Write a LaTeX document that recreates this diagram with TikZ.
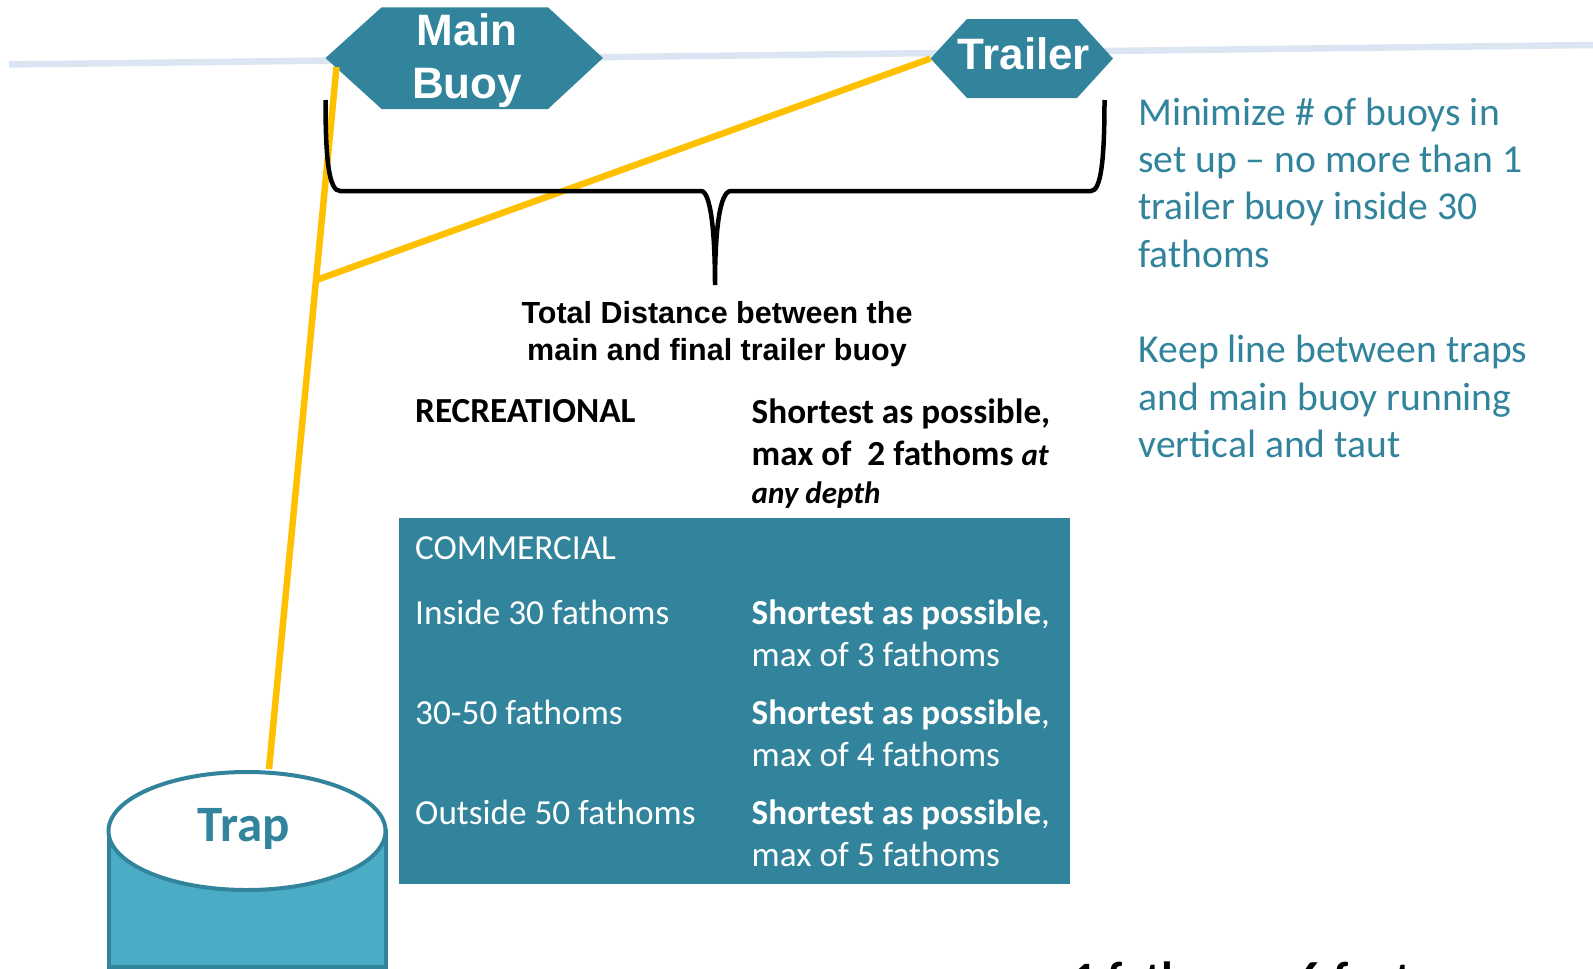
\documentclass[tikz,border=0pt]{standalone}
\usepackage{xcolor}
\usepackage{fontspec}
\usepackage{tikz}
\usetikzlibrary{calc}
\usetikzlibrary{shapes.geometric}
\setmainfont{Carlito}
\newfontfamily\arialfont{Liberation Sans}
\definecolor{teal}{HTML}{31849B}
\definecolor{trapfill}{HTML}{4BACC6}
\definecolor{rope}{HTML}{FFC000}
\definecolor{surface}{HTML}{DCE6F2}
\tikzset{
  buoy/.style = {text = white, inner sep = 0pt, align = center, font = \arialfont\bfseries\fontsize{44}{53}\selectfont},
  cell/.style = {anchor = base west, inner sep = 0pt, align = left, font = \fontsize{35.2}{42}\selectfont},
  boldcell/.style = {cell, font = \bfseries\fontsize{35.2}{42}\selectfont},
  note/.style = {anchor = base west, inner sep = 0pt, align = left, text = teal, font = \fontsize{39.6}{47.3}\selectfont},
}
\begin{document}
\begin{tikzpicture}[x = 1pt, y = -1pt]
\clip (0, 0) rectangle (1593, 969);
\coordinate (LineStart) at (9, 64.5);
\coordinate (LineEnd) at (1593, 45);
\draw [draw = surface, line width = 6.5pt] (LineStart) to (LineEnd);
\fill [teal] (325.5, 58) -- (381.6, 7.3) -- (548, 7.3) -- (603, 58) -- (548, 109) -- (381.6, 109) -- cycle;
\fill [teal] (930.5, 58.5) -- (967, 19) -- (1077, 19) -- (1113, 58.5) -- (1077, 98) -- (967, 98) -- cycle;
\node [buoy] (Main) at (467, 61) {Main\\Buoy};
\node [buoy] (Trailer) at (1024, 53.5) {Trailer};
\coordinate (TrapLeft) at (108.5, 831);
\coordinate (TrapRight) at (385.5, 831);
\draw [draw = teal, fill = trapfill, line width = 4pt] (TrapLeft) -- (108.5, 967) -- (385.5, 967) -- (TrapRight) -- cycle;
\node [ellipse, draw = teal, fill = white, line width = 4pt, minimum width = 277pt, minimum height = 118pt, inner sep = 0pt] (Trap) at (247, 831) {};
\node [inner sep = 0pt, text = teal, font = \bfseries\fontsize{51}{54}\selectfont] (TrapLabel) at (243.5, 829) {Trap};
\coordinate (TrapTie) at (269, 769);
\coordinate (MainTie) at (336.5, 67);
\coordinate (Junction) at (316.4, 280);
\coordinate (TrailerTie) at (930.5, 58.5);
\draw [draw = rope, line width = 6.5pt] (TrapTie) to (MainTie);
\draw [draw = rope, line width = 6.5pt] (Junction) to (TrailerTie);
\coordinate (BraceLeft) at (325.5, 100);
\coordinate (BraceRight) at (1104.5, 100);
\coordinate (BraceTip) at (715, 285);
\draw [draw = black, line width = 4.5pt] (BraceLeft) .. controls (325.5, 160) and (329, 191) .. (340, 191) to (701, 191) .. controls (711, 191) and (715, 235) .. (BraceTip) .. controls (715, 235) and (719, 191) .. (731, 191) to (1091, 191) .. controls (1101, 191) and (1104.5, 160) .. (BraceRight);
\node [inner sep = 0pt, align = center, font = \arialfont\bfseries\fontsize{30.5}{37}\selectfont] (Total) at (717, 334) {Total Distance between the\\main and final trailer buoy};
\node [boldcell] (Rec) at (415, 422.5) {RECREATIONAL};
\node [boldcell] (RecMax) at (751.5, 503) {Shortest as possible,\\max of\ \ 2 fathoms \textit{\fontsize{31}{38}\selectfont at}\\[-4pt]\textit{\fontsize{31}{38}\selectfont any depth}};
\node [rectangle, fill = teal, minimum width = 671pt, minimum height = 366pt, inner sep = 0pt] (Commercial) at (734.5, 701) {};
\node [cell, text = white] (ComHead) at (415, 559) {COMMERCIAL};
\node [cell, text = white] (Inside) at (415, 624) {Inside 30 fathoms};
\node [cell, text = white] (InsideMax) at (751.5, 666) {\textbf{Shortest as possible},\\max of 3 fathoms};
\node [cell, text = white] (Mid) at (415, 724) {30-50 fathoms};
\node [cell, text = white] (MidMax) at (751.5, 766) {\textbf{Shortest as possible},\\max of 4 fathoms};
\node [cell, text = white] (Outside) at (415, 824.5) {Outside 50 fathoms};
\node [cell, text = white] (OutsideMax) at (751.5, 866.5) {\textbf{Shortest as possible},\\max of 5 fathoms};
\node [note] (Minimize) at (1138, 267) {Minimize \# of buoys in\\set up -- no more than 1\\trailer buoy inside 30\\fathoms};
\node [note] (Keep) at (1138.5, 457.5) {Keep line between traps\\and main buoy running\\vertical and taut};
\node [anchor = base west, inner sep = 0pt, font = \bfseries\fontsize{48}{52}\selectfont] (Fathom) at (1072, 995) {1 fathom = 6 feet};
\end{tikzpicture}
\end{document}
